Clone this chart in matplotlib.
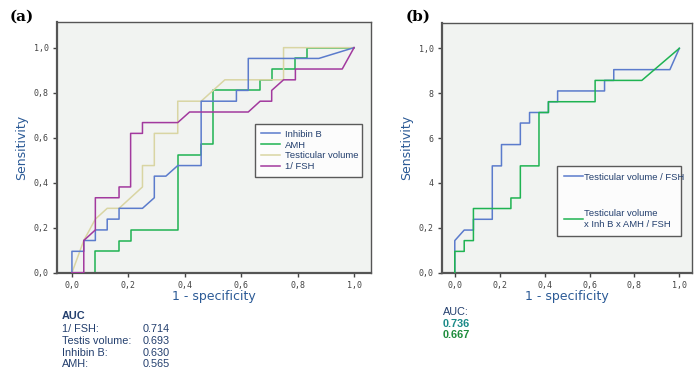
import matplotlib
matplotlib.use("Agg")
import matplotlib.pyplot as plt

# --- ROC curve data (1 - specificity, sensitivity) ---
inhb_x = [0, 0, 0.042, 0.042, 0.083, 0.083, 0.125, 0.125, 0.167, 0.167, 0.25, 0.292, 0.292,
          0.333, 0.375, 0.458, 0.458, 0.583, 0.583, 0.625, 0.625, 0.875, 1.0]
inhb_y = [0, 0.095, 0.095, 0.143, 0.143, 0.19, 0.19, 0.238, 0.238, 0.286, 0.286, 0.333, 0.429,
          0.429, 0.476, 0.476, 0.762, 0.762, 0.810, 0.810, 0.952, 0.952, 1.0]

amh_x = [0, 0.083, 0.083, 0.167, 0.167, 0.208, 0.208, 0.375, 0.375, 0.458, 0.458, 0.5, 0.5,
         0.667, 0.667, 0.708, 0.708, 0.792, 0.792, 0.833, 0.833, 1.0]
amh_y = [0, 0, 0.095, 0.095, 0.143, 0.143, 0.19, 0.19, 0.524, 0.524, 0.571, 0.571, 0.810,
         0.810, 0.857, 0.857, 0.905, 0.905, 0.952, 0.952, 1.0, 1.0]

tv_x = [0, 0.042, 0.083, 0.125, 0.167, 0.25, 0.25, 0.292, 0.292, 0.375, 0.375, 0.458, 0.542,
        0.75, 0.75, 1.0]
tv_y = [0, 0.143, 0.238, 0.286, 0.286, 0.381, 0.476, 0.476, 0.619, 0.619, 0.762, 0.762, 0.857,
        0.857, 1.0, 1.0]

fsh_x = [0, 0.042, 0.042, 0.083, 0.083, 0.167, 0.167, 0.208, 0.208, 0.25, 0.25, 0.375, 0.417,
         0.625, 0.667, 0.708, 0.708, 0.75, 0.792, 0.792, 0.958, 1.0]
fsh_y = [0, 0, 0.143, 0.19, 0.333, 0.333, 0.381, 0.381, 0.619, 0.619, 0.667, 0.667, 0.714,
         0.714, 0.762, 0.762, 0.810, 0.857, 0.857, 0.905, 0.905, 1.0]

tvfsh_x = [0, 0, 0.042, 0.083, 0.083, 0.167, 0.167, 0.208, 0.208, 0.292, 0.292, 0.333, 0.333,
           0.417, 0.417, 0.458, 0.458, 0.667, 0.667, 0.708, 0.708, 0.958, 1.0]
tvfsh_y = [0, 0.143, 0.19, 0.19, 0.238, 0.238, 0.476, 0.476, 0.571, 0.571, 0.667, 0.667, 0.714,
           0.714, 0.762, 0.762, 0.810, 0.810, 0.857, 0.857, 0.905, 0.905, 1.0]

comb_x = [0, 0, 0.042, 0.042, 0.083, 0.083, 0.25, 0.25, 0.292, 0.292, 0.375, 0.375, 0.417,
          0.417, 0.625, 0.625, 0.833, 1.0]
comb_y = [0, 0.095, 0.095, 0.143, 0.143, 0.286, 0.286, 0.333, 0.333, 0.476, 0.476, 0.714, 0.714,
          0.762, 0.762, 0.857, 0.857, 1.0]

auc_names = ["1/ FSH:", "Testis volume:", "Inhibin B:", "AMH:"]
auc_vals = ["0.714", "0.693", "0.630", "0.565"]
auc_b = ["0.736", "0.667"]

ticks = [0, 0.2, 0.4, 0.6, 0.8, 1.0]
xticklabels = ["0,0", "0,2", "0,4", "0,6", "0,8", "1,0"]
yticklabels_a = ["0,0", "0,2", "0,4", "0,6", "0,8", "1,0"]
yticklabels_b = ["0,0", "0,2", "4", "6", "8", "1,0"]

# --- colours ---
c_blue = "#5b7bcc"
c_green = "#1fb352"
c_beige = "#d9d5a3"
c_purple = "#a2399e"
c_label = "#2b5a96"
c_text = "#233f6e"
c_frame = "#555555"

plt.rcParams.update({"font.family": "DejaVu Sans"})
small_font = "Liberation Sans"

fig = plt.figure(figsize=(7.0, 3.79), dpi=100)
ax1 = fig.add_axes([0.0814, 0.2805, 0.4486, 0.6615])
ax2 = fig.add_axes([0.6314, 0.2805, 0.3567, 0.6595])


def style(ax, xlim, yticklabels):
    ax.set_facecolor("#f1f3f1")
    ax.set_xlim(*xlim)
    ax.set_ylim(0, 1.114)
    ax.set_xticks(ticks)
    ax.set_yticks(ticks)
    ax.set_xticklabels(xticklabels, family="DejaVu Sans Mono", fontsize=6, color="#444444")
    ax.set_yticklabels(yticklabels, family="DejaVu Sans Mono", fontsize=6, color="#444444")
    ax.tick_params(length=3, width=1, color="#444444", pad=3)
    for s in ax.spines.values():
        s.set_color(c_frame)
        s.set_linewidth(1.0)
    ax.spines["left"].set_linewidth(1.6)
    ax.spines["bottom"].set_linewidth(1.6)
    ax.set_xlabel("1 - specificity", fontsize=9, color=c_label, labelpad=0)
    ax.set_ylabel("Sensitivity", fontsize=9, color=c_label, labelpad=4)


def frame_legend(leg):
    leg.get_frame().set_linewidth(1.0)
    leg.get_frame().set_facecolor("white")
    for t in leg.get_texts():
        t.set_color(c_text)


lw = 1.1
leg_font = {"family": small_font, "size": 6.8}

# Panel (a)
style(ax1, (-0.053, 1.06), yticklabels_a)
ax1.plot(amh_x, amh_y, color=c_green, lw=lw, label="AMH", zorder=2)
ax1.plot(inhb_x, inhb_y, color=c_blue, lw=lw, label="Inhibin B", zorder=3)
ax1.plot(tv_x, tv_y, color=c_beige, lw=lw, label="Testicular volume", zorder=2)
ax1.plot(fsh_x, fsh_y, color=c_purple, lw=lw, label="1/ FSH", zorder=4)
h, l = ax1.get_legend_handles_labels()
order = [1, 0, 2, 3]
leg1 = ax1.legend([h[i] for i in order], [l[i] for i in order],
                  loc="upper left", bbox_to_anchor=(0.631, 0.585, 0.34, 0.01), mode="expand",
                  prop=leg_font, frameon=True, fancybox=False, edgecolor="#333333",
                  handlelength=2.0, handletextpad=0.5, labelspacing=0.2, borderpad=0.65,
                  borderaxespad=0)
frame_legend(leg1)

# Panel (b)
style(ax2, (-0.057, 1.055), yticklabels_b)
ax2.plot(tvfsh_x, tvfsh_y, color=c_blue, lw=lw, label="Testicular volume / FSH", zorder=2)
ax2.plot(comb_x, comb_y, color=c_green, lw=lw, label="Testicular volume\nx Inh B x AMH / FSH",
         zorder=3)
leg2 = ax2.legend(loc="upper left", bbox_to_anchor=(0.462, 0.418, 0.497, 0.01), mode="expand",
                  prop=leg_font, frameon=True, fancybox=False, edgecolor="#333333",
                  handlelength=2.0, handletextpad=0.1, labelspacing=2.9, borderpad=0.75,
                  borderaxespad=0)
frame_legend(leg2)

# Panel letters
fig.text(10 / 700, 1 - 17 / 379, "(a)", fontsize=11, fontweight="bold", family="DejaVu Serif",
         va="center", ha="left")
fig.text(406 / 700, 1 - 17 / 379, "(b)", fontsize=11, fontweight="bold", family="DejaVu Serif",
         va="center", ha="left")

# AUC table, panel (a)
fig.text(62 / 700, 1 - 316 / 379, "AUC", fontsize=7.8, fontweight="bold", color=c_text,
         family=small_font, va="center")
for i, (n, v) in enumerate(zip(auc_names, auc_vals)):
    y = 1 - (329 + i * 11.8) / 379
    fig.text(62 / 700, y, n, fontsize=7.8, color=c_text, family=small_font, va="center")
    fig.text(143 / 700, y, v, fontsize=7.8, color=c_text, family=small_font, va="center")

# AUC, panel (b)
fig.text(443 / 700, 1 - 312 / 379, "AUC:", fontsize=7.8, color=c_text, family=small_font,
         va="center")
fig.text(443 / 700, 1 - 324 / 379, auc_b[0], fontsize=7.8, color="#1c8a88", fontweight="bold",
         family=small_font, va="center")
fig.text(443 / 700, 1 - 335 / 379, auc_b[1], fontsize=7.8, color="#1e8c3c", fontweight="bold",
         family=small_font, va="center")

fig.savefig("out.png", dpi=100)
